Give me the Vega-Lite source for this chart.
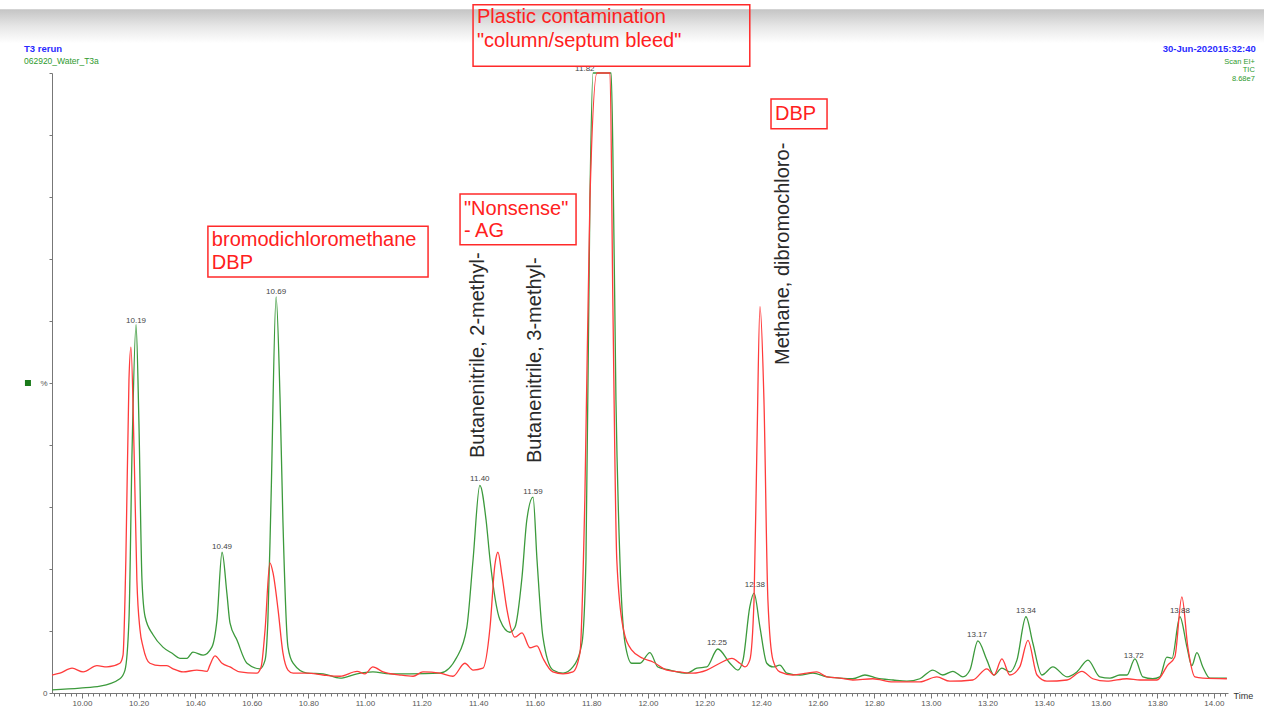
{
  "$schema": "https://vega.github.io/schema/vega-lite/v6.json",
  "width": 1176,
  "height": 620,
  "autosize": "none",
  "padding": {"left": 52, "top": 73, "right": 36, "bottom": 13},
  "background": "white",
  "config": {"view": {"stroke": null}, "font": "Liberation Sans"},
  "datasets": {
    "traces": [
      {"t": 9.894, "v": 0.5, "s": "green"}, {"t": 9.993, "v": 0.8, "s": "green"}, {"t": 10.064, "v": 1.1, "s": "green"}, {"t": 10.134, "v": 2.3, "s": "green"}, {"t": 10.152, "v": 3.7, "s": "green"}, {"t": 10.166, "v": 11.8, "s": "green"}, {"t": 10.177, "v": 39.2, "s": "green"}, {"t": 10.191, "v": 59.4, "s": "green"}, {"t": 10.201, "v": 44.0, "s": "green"}, {"t": 10.212, "v": 18.2, "s": "green"}, {"t": 10.223, "v": 12.3, "s": "green"}, {"t": 10.251, "v": 9.4, "s": "green"}, {"t": 10.286, "v": 7.4, "s": "green"}, {"t": 10.322, "v": 6.3, "s": "green"}, {"t": 10.346, "v": 5.6, "s": "green"}, {"t": 10.371, "v": 5.6, "s": "green"}, {"t": 10.392, "v": 6.6, "s": "green"}, {"t": 10.428, "v": 6.1, "s": "green"}, {"t": 10.459, "v": 7.4, "s": "green"}, {"t": 10.477, "v": 11.8, "s": "green"}, {"t": 10.495, "v": 22.7, "s": "green"}, {"t": 10.512, "v": 16.1, "s": "green"}, {"t": 10.523, "v": 11.3, "s": "green"}, {"t": 10.548, "v": 8.5, "s": "green"}, {"t": 10.583, "v": 4.8, "s": "green"}, {"t": 10.629, "v": 3.9, "s": "green"}, {"t": 10.647, "v": 5.3, "s": "green"}, {"t": 10.657, "v": 11.8, "s": "green"}, {"t": 10.668, "v": 31.1, "s": "green"}, {"t": 10.686, "v": 63.9, "s": "green"}, {"t": 10.7, "v": 47.3, "s": "green"}, {"t": 10.71, "v": 27.9, "s": "green"}, {"t": 10.728, "v": 7.4, "s": "green"}, {"t": 10.746, "v": 4.8, "s": "green"}, {"t": 10.795, "v": 3.2, "s": "green"}, {"t": 10.852, "v": 3.1, "s": "green"}, {"t": 10.912, "v": 2.4, "s": "green"}, {"t": 10.972, "v": 3.1, "s": "green"}, {"t": 11.028, "v": 3.4, "s": "green"}, {"t": 11.088, "v": 3.1, "s": "green"}, {"t": 11.159, "v": 3.1, "s": "green"}, {"t": 11.265, "v": 3.2, "s": "green"}, {"t": 11.325, "v": 5.8, "s": "green"}, {"t": 11.36, "v": 10.6, "s": "green"}, {"t": 11.382, "v": 21.5, "s": "green"}, {"t": 11.406, "v": 33.5, "s": "green"}, {"t": 11.428, "v": 27.9, "s": "green"}, {"t": 11.442, "v": 21.5, "s": "green"}, {"t": 11.477, "v": 11.8, "s": "green"}, {"t": 11.512, "v": 9.8, "s": "green"}, {"t": 11.53, "v": 10.6, "s": "green"}, {"t": 11.555, "v": 18.7, "s": "green"}, {"t": 11.572, "v": 27.9, "s": "green"}, {"t": 11.594, "v": 31.6, "s": "green"}, {"t": 11.608, "v": 21.5, "s": "green"}, {"t": 11.629, "v": 9.0, "s": "green"}, {"t": 11.664, "v": 3.7, "s": "green"}, {"t": 11.7, "v": 3.2, "s": "green"}, {"t": 11.735, "v": 4.2, "s": "green"}, {"t": 11.767, "v": 8.1, "s": "green"}, {"t": 11.781, "v": 21.5, "s": "green"}, {"t": 11.795, "v": 79.5, "s": "green"}, {"t": 11.806, "v": 100, "s": "green"}, {"t": 11.87, "v": 100, "s": "green"}, {"t": 11.876, "v": 87.6, "s": "green"}, {"t": 11.887, "v": 47.3, "s": "green"}, {"t": 11.901, "v": 21.5, "s": "green"}, {"t": 11.919, "v": 8.1, "s": "green"}, {"t": 11.943, "v": 4.8, "s": "green"}, {"t": 11.972, "v": 4.8, "s": "green"}, {"t": 12.007, "v": 6.5, "s": "green"}, {"t": 12.035, "v": 4.2, "s": "green"}, {"t": 12.078, "v": 3.7, "s": "green"}, {"t": 12.138, "v": 3.2, "s": "green"}, {"t": 12.173, "v": 4.0, "s": "green"}, {"t": 12.208, "v": 4.2, "s": "green"}, {"t": 12.247, "v": 7.1, "s": "green"}, {"t": 12.29, "v": 4.8, "s": "green"}, {"t": 12.318, "v": 3.7, "s": "green"}, {"t": 12.336, "v": 5.3, "s": "green"}, {"t": 12.36, "v": 13.9, "s": "green"}, {"t": 12.375, "v": 16.1, "s": "green"}, {"t": 12.396, "v": 10.6, "s": "green"}, {"t": 12.42, "v": 4.8, "s": "green"}, {"t": 12.442, "v": 4.2, "s": "green"}, {"t": 12.466, "v": 4.5, "s": "green"}, {"t": 12.491, "v": 3.2, "s": "green"}, {"t": 12.537, "v": 2.9, "s": "green"}, {"t": 12.583, "v": 3.2, "s": "green"}, {"t": 12.633, "v": 2.6, "s": "green"}, {"t": 12.678, "v": 2.4, "s": "green"}, {"t": 12.724, "v": 2.3, "s": "green"}, {"t": 12.767, "v": 2.9, "s": "green"}, {"t": 12.809, "v": 2.4, "s": "green"}, {"t": 12.866, "v": 2.1, "s": "green"}, {"t": 12.915, "v": 1.9, "s": "green"}, {"t": 12.961, "v": 2.3, "s": "green"}, {"t": 13.007, "v": 3.7, "s": "green"}, {"t": 13.042, "v": 2.9, "s": "green"}, {"t": 13.078, "v": 3.5, "s": "green"}, {"t": 13.113, "v": 2.6, "s": "green"}, {"t": 13.138, "v": 3.7, "s": "green"}, {"t": 13.166, "v": 8.4, "s": "green"}, {"t": 13.198, "v": 5.3, "s": "green"}, {"t": 13.223, "v": 2.9, "s": "green"}, {"t": 13.251, "v": 4.0, "s": "green"}, {"t": 13.279, "v": 3.4, "s": "green"}, {"t": 13.304, "v": 5.3, "s": "green"}, {"t": 13.336, "v": 12.3, "s": "green"}, {"t": 13.36, "v": 8.1, "s": "green"}, {"t": 13.392, "v": 2.9, "s": "green"}, {"t": 13.431, "v": 4.2, "s": "green"}, {"t": 13.481, "v": 2.6, "s": "green"}, {"t": 13.516, "v": 3.4, "s": "green"}, {"t": 13.555, "v": 5.3, "s": "green"}, {"t": 13.597, "v": 2.6, "s": "green"}, {"t": 13.633, "v": 2.4, "s": "green"}, {"t": 13.668, "v": 2.9, "s": "green"}, {"t": 13.693, "v": 2.9, "s": "green"}, {"t": 13.721, "v": 5.5, "s": "green"}, {"t": 13.749, "v": 2.6, "s": "green"}, {"t": 13.784, "v": 2.3, "s": "green"}, {"t": 13.809, "v": 2.6, "s": "green"}, {"t": 13.834, "v": 5.8, "s": "green"}, {"t": 13.852, "v": 5.6, "s": "green"}, {"t": 13.88, "v": 12.3, "s": "green"}, {"t": 13.905, "v": 7.4, "s": "green"}, {"t": 13.922, "v": 4.4, "s": "green"}, {"t": 13.94, "v": 6.5, "s": "green"}, {"t": 13.961, "v": 4.2, "s": "green"}, {"t": 13.986, "v": 2.4, "s": "green"}, {"t": 14.046, "v": 2.4, "s": "green"},
      {"t": 9.894, "v": 2.9, "s": "red"}, {"t": 9.922, "v": 3.2, "s": "red"}, {"t": 9.965, "v": 4.0, "s": "red"}, {"t": 10.004, "v": 3.4, "s": "red"}, {"t": 10.053, "v": 4.4, "s": "red"}, {"t": 10.088, "v": 4.2, "s": "red"}, {"t": 10.134, "v": 4.8, "s": "red"}, {"t": 10.145, "v": 6.1, "s": "red"}, {"t": 10.155, "v": 21.5, "s": "red"}, {"t": 10.166, "v": 50.5, "s": "red"}, {"t": 10.173, "v": 55.8, "s": "red"}, {"t": 10.184, "v": 39.2, "s": "red"}, {"t": 10.194, "v": 18.2, "s": "red"}, {"t": 10.205, "v": 10.2, "s": "red"}, {"t": 10.216, "v": 7.4, "s": "red"}, {"t": 10.24, "v": 4.8, "s": "red"}, {"t": 10.276, "v": 4.4, "s": "red"}, {"t": 10.3, "v": 4.4, "s": "red"}, {"t": 10.322, "v": 3.9, "s": "red"}, {"t": 10.357, "v": 3.4, "s": "red"}, {"t": 10.406, "v": 3.7, "s": "red"}, {"t": 10.442, "v": 3.5, "s": "red"}, {"t": 10.452, "v": 4.5, "s": "red"}, {"t": 10.47, "v": 6.0, "s": "red"}, {"t": 10.495, "v": 4.8, "s": "red"}, {"t": 10.523, "v": 4.2, "s": "red"}, {"t": 10.558, "v": 3.4, "s": "red"}, {"t": 10.618, "v": 3.2, "s": "red"}, {"t": 10.633, "v": 4.2, "s": "red"}, {"t": 10.647, "v": 10.2, "s": "red"}, {"t": 10.664, "v": 21.0, "s": "red"}, {"t": 10.675, "v": 19.4, "s": "red"}, {"t": 10.693, "v": 13.4, "s": "red"}, {"t": 10.71, "v": 6.5, "s": "red"}, {"t": 10.728, "v": 3.7, "s": "red"}, {"t": 10.746, "v": 3.2, "s": "red"}, {"t": 10.795, "v": 3.2, "s": "red"}, {"t": 10.852, "v": 2.9, "s": "red"}, {"t": 10.912, "v": 2.7, "s": "red"}, {"t": 10.972, "v": 3.5, "s": "red"}, {"t": 11.0, "v": 3.1, "s": "red"}, {"t": 11.028, "v": 4.2, "s": "red"}, {"t": 11.064, "v": 3.4, "s": "red"}, {"t": 11.124, "v": 2.9, "s": "red"}, {"t": 11.17, "v": 2.7, "s": "red"}, {"t": 11.205, "v": 3.4, "s": "red"}, {"t": 11.265, "v": 3.2, "s": "red"}, {"t": 11.311, "v": 2.7, "s": "red"}, {"t": 11.353, "v": 4.8, "s": "red"}, {"t": 11.382, "v": 3.7, "s": "red"}, {"t": 11.417, "v": 4.0, "s": "red"}, {"t": 11.442, "v": 10.6, "s": "red"}, {"t": 11.459, "v": 20.6, "s": "red"}, {"t": 11.47, "v": 22.7, "s": "red"}, {"t": 11.484, "v": 19.0, "s": "red"}, {"t": 11.502, "v": 13.4, "s": "red"}, {"t": 11.53, "v": 9.0, "s": "red"}, {"t": 11.555, "v": 9.7, "s": "red"}, {"t": 11.583, "v": 7.3, "s": "red"}, {"t": 11.608, "v": 7.6, "s": "red"}, {"t": 11.629, "v": 5.6, "s": "red"}, {"t": 11.664, "v": 3.4, "s": "red"}, {"t": 11.7, "v": 3.1, "s": "red"}, {"t": 11.735, "v": 3.4, "s": "red"}, {"t": 11.76, "v": 6.5, "s": "red"}, {"t": 11.777, "v": 31.1, "s": "red"}, {"t": 11.795, "v": 79.5, "s": "red"}, {"t": 11.82, "v": 100, "s": "red"}, {"t": 11.866, "v": 100, "s": "red"}, {"t": 11.876, "v": 63.4, "s": "red"}, {"t": 11.89, "v": 21.5, "s": "red"}, {"t": 11.912, "v": 10.6, "s": "red"}, {"t": 11.943, "v": 6.9, "s": "red"}, {"t": 11.982, "v": 5.6, "s": "red"}, {"t": 12.018, "v": 5.0, "s": "red"}, {"t": 12.067, "v": 3.7, "s": "red"}, {"t": 12.113, "v": 3.4, "s": "red"}, {"t": 12.159, "v": 3.2, "s": "red"}, {"t": 12.208, "v": 3.7, "s": "red"}, {"t": 12.254, "v": 4.8, "s": "red"}, {"t": 12.297, "v": 5.6, "s": "red"}, {"t": 12.325, "v": 4.8, "s": "red"}, {"t": 12.343, "v": 4.2, "s": "red"}, {"t": 12.36, "v": 5.3, "s": "red"}, {"t": 12.375, "v": 15.0, "s": "red"}, {"t": 12.385, "v": 39.2, "s": "red"}, {"t": 12.396, "v": 62.3, "s": "red"}, {"t": 12.41, "v": 47.3, "s": "red"}, {"t": 12.424, "v": 15.0, "s": "red"}, {"t": 12.442, "v": 5.3, "s": "red"}, {"t": 12.466, "v": 3.4, "s": "red"}, {"t": 12.512, "v": 2.9, "s": "red"}, {"t": 12.562, "v": 3.2, "s": "red"}, {"t": 12.597, "v": 3.4, "s": "red"}, {"t": 12.633, "v": 2.6, "s": "red"}, {"t": 12.678, "v": 2.4, "s": "red"}, {"t": 12.724, "v": 2.1, "s": "red"}, {"t": 12.795, "v": 2.3, "s": "red"}, {"t": 12.866, "v": 1.8, "s": "red"}, {"t": 12.961, "v": 1.8, "s": "red"}, {"t": 13.021, "v": 2.6, "s": "red"}, {"t": 13.067, "v": 1.9, "s": "red"}, {"t": 13.148, "v": 2.1, "s": "red"}, {"t": 13.198, "v": 3.9, "s": "red"}, {"t": 13.223, "v": 2.9, "s": "red"}, {"t": 13.251, "v": 5.5, "s": "red"}, {"t": 13.279, "v": 2.9, "s": "red"}, {"t": 13.314, "v": 4.2, "s": "red"}, {"t": 13.343, "v": 8.5, "s": "red"}, {"t": 13.375, "v": 2.9, "s": "red"}, {"t": 13.41, "v": 1.9, "s": "red"}, {"t": 13.481, "v": 2.1, "s": "red"}, {"t": 13.534, "v": 3.5, "s": "red"}, {"t": 13.572, "v": 2.3, "s": "red"}, {"t": 13.622, "v": 1.9, "s": "red"}, {"t": 13.693, "v": 2.3, "s": "red"}, {"t": 13.739, "v": 2.1, "s": "red"}, {"t": 13.799, "v": 2.1, "s": "red"}, {"t": 13.837, "v": 4.5, "s": "red"}, {"t": 13.862, "v": 5.8, "s": "red"}, {"t": 13.887, "v": 15.5, "s": "red"}, {"t": 13.908, "v": 7.4, "s": "red"}, {"t": 13.933, "v": 2.6, "s": "red"}, {"t": 13.961, "v": 2.4, "s": "red"}, {"t": 14.046, "v": 2.3, "s": "red"}
    ],
    "peaks": [
      {"t": 10.191, "v": 60.0, "label": "10.19"}, {"t": 10.495, "v": 23.5, "label": "10.49"}, {"t": 10.686, "v": 64.7, "label": "10.69"}, {"t": 11.406, "v": 34.5, "label": "11.40"}, {"t": 11.594, "v": 32.4, "label": "11.59"}, {"t": 11.777, "v": 100.6, "label": "11.82"}, {"t": 12.244, "v": 8.1, "label": "12.25"}, {"t": 12.378, "v": 17.4, "label": "12.38"}, {"t": 13.163, "v": 9.4, "label": "13.17"}, {"t": 13.336, "v": 13.2, "label": "13.34"}, {"t": 13.717, "v": 6.0, "label": "13.72"}, {"t": 13.88, "v": 13.2, "label": "13.88"}
    ],
    "boxes": [
      {"t1": 11.382, "t2": 12.36, "v1": 111.0, "v2": 101.1},
      {"t1": 10.445, "t2": 11.223, "v1": 75.3, "v2": 67.1},
      {"t1": 11.336, "t2": 11.746, "v1": 80.5, "v2": 72.3},
      {"t1": 12.435, "t2": 12.633, "v1": 95.8, "v2": 91.0}
    ],
    "notes": [
      {"t": 11.396, "v": 109.0, "text": "Plastic contamination"},
      {"t": 11.396, "v": 105.2, "text": "\"column/septum bleed\""},
      {"t": 10.459, "v": 73.1, "text": "bromodichloromethane"},
      {"t": 10.459, "v": 69.4, "text": "DBP"},
      {"t": 11.35, "v": 78.1, "text": "\"Nonsense\""},
      {"t": 11.35, "v": 74.5, "text": "- AG"},
      {"t": 12.449, "v": 93.4, "text": "DBP"}
    ],
    "compounds": [
      {"t": 11.399, "v": 37.9, "name": "Butanenitrile, 2-methyl-"},
      {"t": 11.601, "v": 37.1, "name": "Butanenitrile, 3-methyl-"},
      {"t": 12.477, "v": 52.9, "name": "Methane, dibromochloro-"}
    ]
  },
  "layer": [
    {
      "data": {"values": [{"band": "top"}]},
      "mark": {"type": "rect", "fill": {"gradient": "linear", "x1": 0, "y1": 0, "x2": 0, "y2": 1, "stops": [{"offset": 0, "color": "#c4c4c4"}, {"offset": 0.5, "color": "#e6e6e6"}, {"offset": 1, "color": "#ffffff"}]}},
      "encoding": {
        "x": {"datum": 9.71, "type": "quantitative", "scale": {"domain": [9.894, 14.05], "nice": false, "zero": false}},
        "x2": {"datum": 14.18},
        "y": {"datum": 110.3, "type": "quantitative", "scale": {"domain": [0, 100], "nice": false}},
        "y2": {"datum": 104.8}
      }
    },
    {
      "data": {"name": "traces"},
      "mark": {"type": "line", "strokeWidth": 1.3, "interpolate": "monotone"},
      "encoding": {
        "x": {
          "field": "t", "type": "quantitative",
          "scale": {"domain": [9.894, 14.05], "nice": false, "zero": false},
          "axis": {
            "title": "Time", "titleFontSize": 9, "titleFontWeight": "normal", "titleColor": "#333",
            "titleAnchor": "end", "titleAlign": "left", "titleBaseline": "middle", "titleX": 1181, "titleY": 2,
            "tickCount": 210, "labelExpr": "abs(datum.value*5 - round(datum.value*5)) < 0.001 ? format(datum.value, '.2f') : ''",
            "labelFontSize": 8, "labelColor": "#555", "labelOverlap": false, "labelFlush": false, "labelPadding": 1,
            "grid": false, "domainColor": "#777", "tickColor": "#777",
            "tickSize": {"condition": {"test": "abs(datum.value*5 - round(datum.value*5)) < 0.001", "value": 5}, "value": 3}
          }
        },
        "y": {
          "field": "v", "type": "quantitative",
          "scale": {"domain": [0, 100], "nice": false},
          "axis": {
            "title": null, "values": [0, 10, 20, 30, 40, 50, 60, 70, 80, 90, 100],
            "labelExpr": "datum.value == 0 ? '0' : (datum.value == 50 ? '%' : '')",
            "labelFontSize": 8, "labelColor": "#555", "grid": false, "domainColor": "#777", "tickColor": "#777", "tickSize": 3, "labelPadding": 2
          }
        },
        "color": {"field": "s", "type": "nominal", "scale": {"domain": ["green", "red"], "range": ["#3c9a3c", "#ff3b3b"]}, "legend": null},
        "order": {"field": "t", "type": "quantitative"}
      }
    },
    {
      "data": {"values": [{"marker": "series"}]},
      "mark": {"type": "square", "size": 36, "color": "#1a7a1a", "opacity": 1, "filled": true},
      "encoding": {"x": {"datum": 9.809, "type": "quantitative"}, "y": {"datum": 50, "type": "quantitative"}}
    },
    {
      "data": {"name": "peaks"},
      "mark": {"type": "text", "fontSize": 8, "color": "#444", "align": "center", "baseline": "middle"},
      "encoding": {"x": {"field": "t", "type": "quantitative"}, "y": {"field": "v", "type": "quantitative"}, "text": {"field": "label"}}
    },
    {
      "data": {"name": "boxes"},
      "mark": {"type": "rect", "fill": null, "stroke": "#ff2a2a", "strokeWidth": 1.5},
      "encoding": {"x": {"field": "t1", "type": "quantitative"}, "x2": {"field": "t2"}, "y": {"field": "v1", "type": "quantitative"}, "y2": {"field": "v2"}}
    },
    {
      "data": {"name": "notes"},
      "mark": {"type": "text", "fontSize": 20, "color": "#ff2020", "align": "left", "baseline": "middle"},
      "encoding": {"x": {"field": "t", "type": "quantitative"}, "y": {"field": "v", "type": "quantitative"}, "text": {"field": "text"}}
    },
    {
      "data": {"name": "compounds"},
      "mark": {"type": "text", "fontSize": 20, "color": "#2a2a2a", "align": "left", "baseline": "middle", "angle": 270},
      "encoding": {"x": {"field": "t", "type": "quantitative"}, "y": {"field": "v", "type": "quantitative"}, "text": {"field": "name"}}
    },
    {
      "data": {"values": [{"t": 9.795, "v": 103.8, "text": "T3 rerun"}]},
      "mark": {"type": "text", "baseline": "middle", "align": "left", "fontSize": 9.5, "fontWeight": "bold", "color": "#2a2aff"},
      "encoding": {"x": {"field": "t", "type": "quantitative"}, "y": {"field": "v", "type": "quantitative"}, "text": {"field": "text"}}
    },
    {
      "data": {"values": [{"t": 9.795, "v": 101.9, "text": "062920_Water_T3a"}]},
      "mark": {"type": "text", "baseline": "middle", "align": "left", "fontSize": 8.5, "color": "#2e9a2e"},
      "encoding": {"x": {"field": "t", "type": "quantitative"}, "y": {"field": "v", "type": "quantitative"}, "text": {"field": "text"}}
    },
    {
      "data": {"values": [{"t": 14.148, "v": 103.9, "text": "30-Jun-202015:32:40"}]},
      "mark": {"type": "text", "baseline": "middle", "align": "right", "fontSize": 9.5, "fontWeight": "bold", "color": "#2a2aff"},
      "encoding": {"x": {"field": "t", "type": "quantitative"}, "y": {"field": "v", "type": "quantitative"}, "text": {"field": "text"}}
    },
    {
      "data": {"values": [{"t": 14.145, "v": 101.8, "text": "Scan EI+"}, {"t": 14.145, "v": 100.5, "text": "TIC"}, {"t": 14.145, "v": 99.1, "text": "8.68e7"}]},
      "mark": {"type": "text", "baseline": "middle", "align": "right", "fontSize": 7.5, "color": "#2e9a2e"},
      "encoding": {"x": {"field": "t", "type": "quantitative"}, "y": {"field": "v", "type": "quantitative"}, "text": {"field": "text"}}
    }
  ]
}
